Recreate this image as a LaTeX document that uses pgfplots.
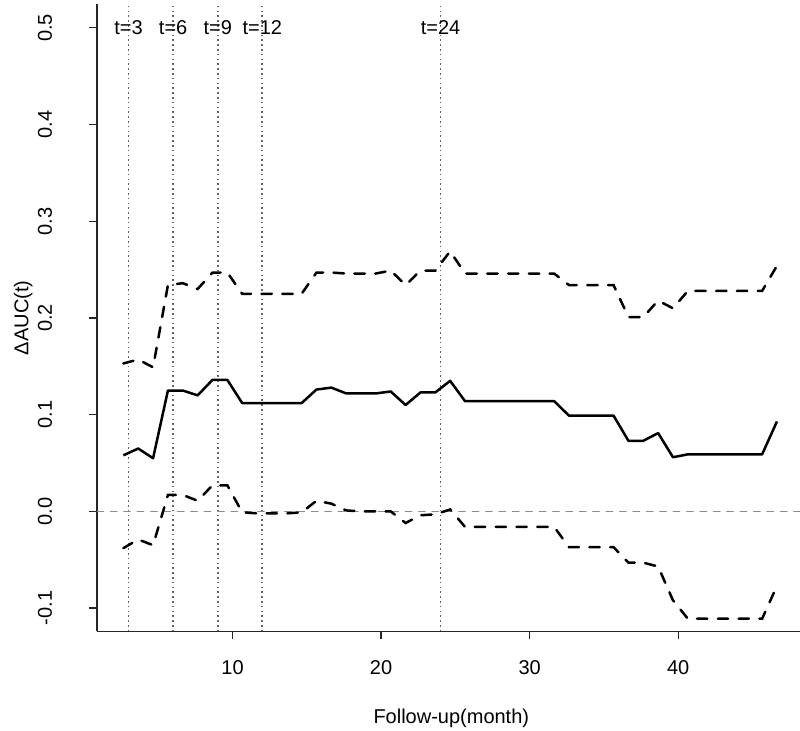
\documentclass[border=0pt]{standalone}
\usepackage{fontspec}
\setmainfont{Liberation Sans}
\usepackage{pgfplots}
\usepackage{pgfplotstable}
\pgfplotsset{compat=1.18}

% delta AUC(t) with pointwise band
\pgfplotstableread{
x      est    hi      lo
2.65   0.058  0.153  -0.038
3.65   0.065  0.157  -0.029
4.65   0.055  0.149  -0.035
5.65   0.125  0.234   0.017
6.65   0.125  0.236   0.017
7.65   0.120  0.230   0.011
8.65   0.136  0.247   0.027
9.65   0.136  0.247   0.027
10.65  0.112  0.225  -0.001
11.65  0.112  0.225  -0.002
12.65  0.112  0.225  -0.002
13.65  0.112  0.225  -0.002
14.65  0.112  0.225  -0.001
15.65  0.126  0.247   0.011
16.65  0.128  0.247   0.008
17.65  0.122  0.246   0.001
18.65  0.122  0.246   0.000
19.65  0.122  0.246   0.000
20.65  0.124  0.249   0.000
21.65  0.110  0.234  -0.012
22.65  0.123  0.249  -0.004
23.65  0.123  0.249  -0.003
24.65  0.135  0.269   0.002
25.65  0.114  0.246  -0.016
26.65  0.114  0.246  -0.016
27.65  0.114  0.246  -0.016
28.65  0.114  0.246  -0.016
29.65  0.114  0.246  -0.016
30.65  0.114  0.246  -0.016
31.65  0.114  0.246  -0.016
32.65  0.099  0.234  -0.037
33.65  0.099  0.234  -0.037
34.65  0.099  0.234  -0.037
35.65  0.099  0.234  -0.037
36.65  0.073  0.201  -0.053
37.65  0.073  0.201  -0.053
38.65  0.081  0.218  -0.057
39.65  0.056  0.210  -0.092
40.65  0.059  0.228  -0.111
41.65  0.059  0.228  -0.111
42.65  0.059  0.228  -0.111
43.65  0.059  0.228  -0.111
44.65  0.059  0.228  -0.111
45.65  0.059  0.228  -0.111
46.65  0.093  0.254  -0.077
}\auctab

\begin{document}
\begin{tikzpicture}
\begin{axis}[
    scale only axis,
    width=351.5pt, height=313.5pt,
    xmin=0.875, xmax=48.2,
    ymin=-0.1241, ymax=0.5243,
    axis x line*=bottom, axis y line*=left,
    axis line style={-, black!85, line width=0.6pt},
    tick align=outside, major tick length=4pt,
    tick style={black!85, line width=0.6pt},
    xtick={10,20,30,40}, xticklabels={10,20,30,40},
    ytick={-0.1,0,0.1,0.2,0.3,0.4,0.5},
    yticklabels={-0.1,0.0,0.1,0.2,0.3,0.4,0.5},
    xticklabel style={anchor=center}, xticklabel shift=14pt,
    yticklabel style={rotate=90, anchor=center}, yticklabel shift=22pt,
    xlabel={Follow-up(month)},
    ylabel={ΔAUC(t)},
    xlabel style={at={(axis description cs:0.504,-0.139)}, anchor=center},
    ylabel style={at={(axis description cs:-0.105,0.5)}, anchor=center},
]

% reference lines
\addplot[gray!90, line width=0.6pt, line cap=round, dash pattern=on 3.3pt off 3.4pt]
    coordinates {(0.875,0) (48.2,0)};
\foreach \t in {3,6,9,12,24} {
    \edef\tmp{\noexpand\addplot[black!60, line width=0.9pt, dash pattern=on 0.8pt off 1.6pt]
        coordinates {(\t,-0.1241) (\t,0.5243)};
        \noexpand\node at (axis cs:\t,0.5) {t=\t};}
    \tmp
}

% estimate and band
\addplot[black, line width=1.25pt, line join=round] table[x=x, y=est] {\auctab};
\addplot[black, line width=1.25pt, line cap=round, dash pattern=on 5.2pt off 5.2pt] table[x=x, y=hi] {\auctab};
\addplot[black, line width=1.25pt, line cap=round, dash pattern=on 5.2pt off 5.2pt] table[x=x, y=lo] {\auctab};

\end{axis}
\pgfresetboundingbox
\path (-48.5pt,-49.5pt) rectangle (351.5pt,315.7pt);
\end{tikzpicture}
\end{document}
